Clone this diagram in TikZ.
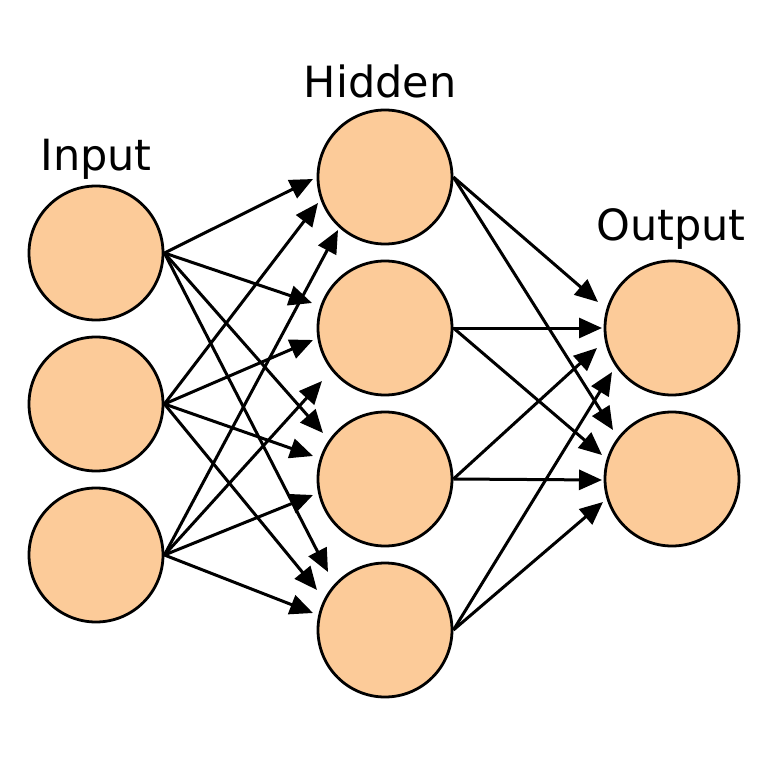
\documentclass[tikz,border=0pt]{standalone}
\usepackage{fontspec}
\setmainfont{DejaVu Sans}
\usetikzlibrary{arrows.meta,calc}
\definecolor{peach}{HTML}{FCCB99}
\begin{document}
\begin{tikzpicture}[x=1pt,y=-1pt,
  neuron/.style={circle,draw=black,line width=2.8pt,fill=peach,minimum size=134pt,inner sep=0pt},
  conn/.style={line width=3pt,-{Triangle[length=23pt,width=20pt]}},
  lbl/.style={anchor=base,inner sep=0pt,font=\fontsize{43}{50}\selectfont}]
\useasboundingbox[fill=white] (0,0) rectangle (768,768);
% neurons
\node[neuron] (i1) at (96,253) {};
\node[neuron] (i2) at (96,404) {};
\node[neuron] (i3) at (96,555) {};
\node[neuron] (h1) at (385,177) {};
\node[neuron] (h2) at (385,328) {};
\node[neuron] (h3) at (385,479) {};
\node[neuron] (h4) at (385,630) {};
\node[neuron] (o1) at (672,328) {};
\node[neuron] (o2) at (672,479) {};
% labels
\node[lbl] (linput) at (96,170) {Input};
\node[lbl] (lhidden) at (380,97) {Hidden};
\node[lbl] (loutput) at (671,240) {Output};
% input -> hidden
\draw[conn] (i1.east) -- ($(h1)+(-72,2)$);
\draw[conn] (i2.east) -- ($(h1)+(-67,26)$);
\draw[conn] (i3.east) -- ($(h1)+(-47,53)$);
\draw[conn] (i1.east) -- ($(h2)+(-73,-25)$);
\draw[conn] (i2.east) -- ($(h2)+(-72,12)$);
\draw[conn] (i3.east) -- ($(h2)+(-63,53)$);
\draw[conn] (i1.east) -- ($(h3)+(-62,-46)$);
\draw[conn] (i2.east) -- ($(h3)+(-72,-23)$);
\draw[conn] (i3.east) -- ($(h3)+(-72,16)$);
\draw[conn] (i1.east) -- ($(h4)+(-57,-58)$);
\draw[conn] (i2.east) -- ($(h4)+(-68,-40)$);
\draw[conn] (i3.east) -- ($(h4)+(-72,-17)$);
% hidden -> output
\draw[conn] (h1.east) -- ($(o1)+(-74,-26)$);
\draw[conn] (h2.east) -- ($(o1)+(-70,0)$);
\draw[conn] (h3.east) -- ($(o1)+(-75,20)$);
\draw[conn] (h4.east) -- ($(o1)+(-60,44)$);
\draw[conn] (h1.east) -- ($(o2)+(-59,-49)$);
\draw[conn] (h2.east) -- ($(o2)+(-70,-24)$);
\draw[conn] (h3.east) -- ($(o2)+(-70,1)$);
\draw[conn] (h4.east) -- ($(o2)+(-69,23)$);
\end{tikzpicture}
\end{document}
